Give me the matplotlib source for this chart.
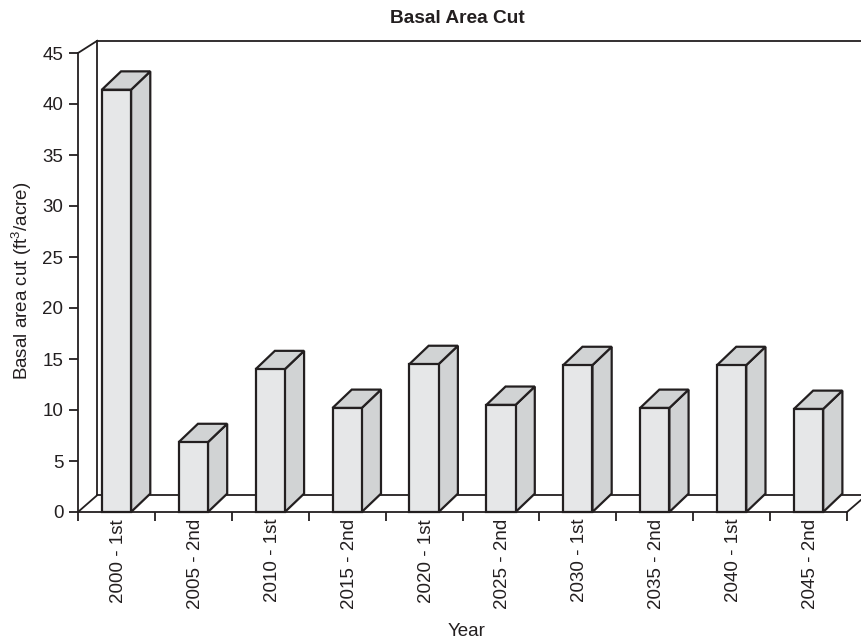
import matplotlib
matplotlib.use('Agg')
import matplotlib.pyplot as plt
from matplotlib.patches import Polygon
from matplotlib.transforms import ScaledTranslation

plt.rcParams['font.family'] = ['Liberation Sans', 'DejaVu Sans']
plt.rcParams['mathtext.default'] = 'regular'

years = ['2000 - 1st', '2005 - 2nd', '2010 - 1st', '2015 - 2nd', '2020 - 1st',
         '2025 - 2nd', '2030 - 1st', '2035 - 2nd', '2040 - 1st', '2045 - 2nd']
basal_cut = [41.4, 6.85, 14.0, 10.2, 14.5, 10.5, 14.4, 10.2, 14.4, 10.1]
yticks = [0, 5, 10, 15, 20, 25, 30, 35, 40, 45]

ink = '#231f20'
front_col = '#e6e7e8'
side_col = '#d1d3d4'

W, H = 861, 641
fig = plt.figure(figsize=(W / 100, H / 100), dpi=100)
ax = fig.add_axes([78 / W, 1 - 512 / H, (847 - 78) / W, (512 - 53) / H])
ax.set_xlim(0, 10)
ax.set_ylim(0, 45)
ax.patch.set_visible(False)

for s in ['top', 'right']:
    ax.spines[s].set_visible(False)
for s in ['left', 'bottom']:
    ax.spines[s].set_color(ink)
    ax.spines[s].set_linewidth(1.3)

# depth of the fake 3d box, in data units
dx = 0.25
dy = 1.8
floor_dy = 1.65
wall_top = 46.2
wall_dx = 0.25


def wall_line(xs, ys, z=1):
    ax.plot(xs, ys, color=ink, lw=1.3, clip_on=False, zorder=z, solid_capstyle='projecting')


# back wall and floor
wall_line([wall_dx, wall_dx], [floor_dy, wall_top])
wall_line([wall_dx, 10.2], [wall_top, wall_top])
wall_line([0, wall_dx], [45, wall_top])
wall_line([0, wall_dx], [0, floor_dy])
wall_line([wall_dx, 10.2], [floor_dy, floor_dy])
wall_line([10, 10.2], [0, 1.3])

# bars: front, side and top faces
half = 0.19
for i, v in enumerate(basal_cut):
    x0 = i + 0.5 - half
    x1 = i + 0.5 + half
    front = [(x0, 0), (x1, 0), (x1, v), (x0, v)]
    side = [(x1, 0), (x1 + dx, dy), (x1 + dx, v + dy), (x1, v)]
    top = [(x0, v), (x1, v), (x1 + dx, v + dy), (x0 + dx, v + dy)]
    for pts, col in [(side, side_col), (top, side_col), (front, front_col)]:
        ax.add_patch(Polygon(pts, closed=True, facecolor=col, edgecolor=ink, lw=1.6,
                             joinstyle='miter', clip_on=False, zorder=3))

ax.set_yticks(yticks)
ax.set_xticks(range(11))
ax.set_xticklabels([])
ax.set_xticks([i + 0.5 for i in range(10)], minor=True)
ax.set_xticklabels(years, minor=True, rotation=90, fontsize=13.5, color=ink)
ax.tick_params(axis='y', length=6.5, width=1.3, color=ink, labelsize=13.5, labelcolor=ink, pad=4)
ax.tick_params(axis='x', which='major', length=6.5, width=1.3, color=ink)
ax.tick_params(axis='x', which='minor', length=0, pad=5)

# nudge the rotated labels to the right a little
nudge = ScaledTranslation(2 / 100, 0, fig.dpi_scale_trans)
for lab in ax.get_xticklabels(minor=True):
    lab.set_transform(lab.get_transform() + nudge)

fig.text(457.5 / W, 1 - 18.5 / H, 'Basal Area Cut', fontsize=13.8, fontweight='bold', color=ink,
         ha='center', va='center')
fig.text(467 / W, 1 - 632 / H, 'Year', fontsize=13.5, color=ink, ha='center', va='center')
fig.text(22 / W, 1 - 281 / H, 'Basal area cut (ft$^{3}$/acre)', fontsize=13.5, color=ink,
         rotation=90, ha='center', va='center')

fig.savefig('out.png', dpi=100)
